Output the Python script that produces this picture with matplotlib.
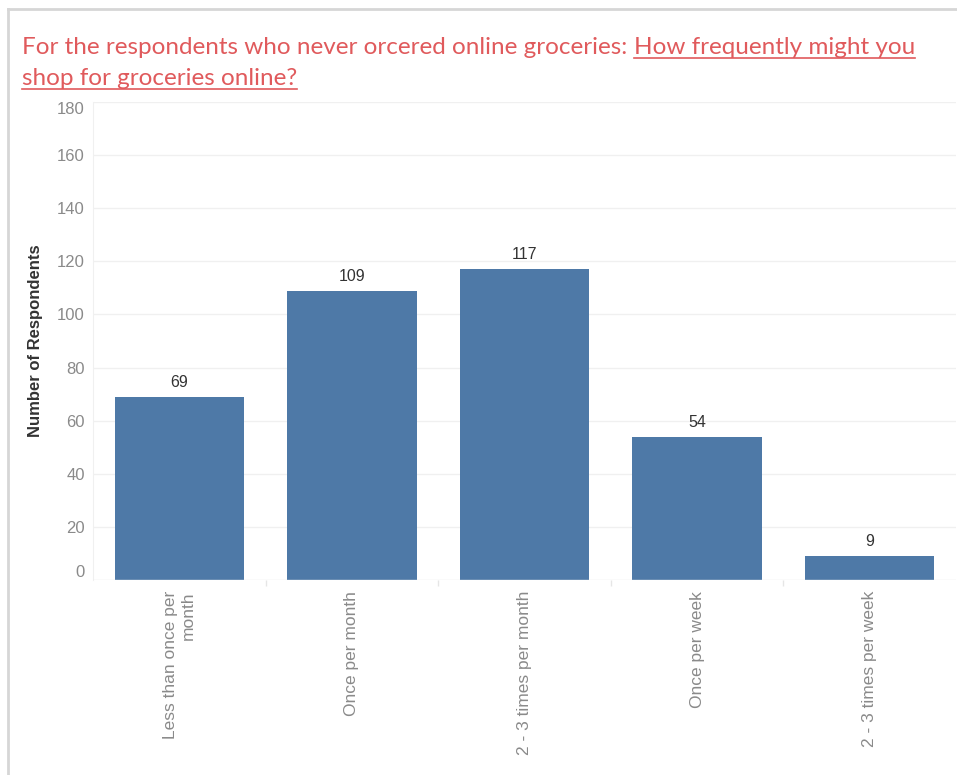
import matplotlib.pyplot as plt
from matplotlib.lines import Line2D

# survey answers, never-ordered group
categories = ['Less than once per\nmonth', 'Once per month', '2 - 3 times per month',
              'Once per week', '2 - 3 times per week']
respondents = [69, 109, 117, 54, 9]
yticks = [0, 20, 40, 60, 80, 100, 120, 140, 160, 180]

title_plain = 'For the respondents who never orcered online groceries: '
title_link_1 = 'How frequently might you'
title_link_2 = 'shop for groceries online?'

bar_color = '#4e79a7'
title_color = '#e05a5c'
tick_color = '#8a8a8a'
grid_color = '#f0f0f0'

W, H = 957, 775
fig = plt.figure(figsize=(W / 100, H / 100), dpi=100)
ax = fig.add_axes([93 / W, (H - 580) / H, (956 - 93) / W, (580 - 102) / H])

x = list(range(len(categories)))
ax.bar(x, respondents, width=0.75, color=bar_color, zorder=2)
ax.set_xlim(-0.5, len(categories) - 0.5)
ax.set_ylim(0, 180)

# value labels on top of the bars
for xi, v in zip(x, respondents):
    ax.annotate(str(v), (xi, v), xytext=(0, 5), textcoords='offset points',
                ha='center', va='bottom', fontsize=11.5, color='#333333',
                family='Liberation Sans')

# horizontal grid
for t in yticks[1:]:
    ax.axhline(t, color=grid_color, lw=1, zorder=0)
ax.axhline(0, color='#e6e6e6', lw=1, zorder=3)

for s in ['top', 'right', 'bottom']:
    ax.spines[s].set_visible(False)
ax.spines['left'].set_color('#f0f0f0')
ax.tick_params(length=0)

ax.set_yticks(yticks)
ax.set_yticklabels([str(t) for t in yticks], fontsize=12, color=tick_color,
                   family='Liberation Sans')
ylabels = ax.get_yticklabels()
ylabels[0].set_va('bottom')
ylabels[-1].set_va('top')
ax.tick_params(axis='y', pad=6)

ax.set_xticks(x)
ax.set_xticklabels(categories, rotation=90, fontsize=12.5, color=tick_color,
                   family='Liberation Sans', va='top', ha='center',
                   multialignment='right')
ax.tick_params(axis='x', pad=8)
# small separators between columns, below the axis
ax.set_xticks([xi + 0.5 for xi in x[:-1]], minor=True)
ax.tick_params(axis='x', which='minor', length=4, width=1, color='#e6e6e6')

ax.set_ylabel('Number of Respondents', fontsize=12, fontweight='bold',
              color='#333333', family='Liberation Sans', labelpad=10)

# title with underlined question
fig.canvas.draw()
renderer = fig.canvas.get_renderer()
ty1 = 1 - 54 / H
ty2 = 1 - 85 / H
fs = 17.5
t1 = fig.text(22 / W, ty1, title_plain, fontsize=fs, color=title_color,
              family='Lato', va='baseline')
ext = t1.get_window_extent(renderer)
t2 = fig.text(ext.x1 / W, ty1, title_link_1, fontsize=fs, color=title_color,
              family='Lato', va='baseline')
t3 = fig.text(22 / W, ty2, title_link_2, fontsize=fs, color=title_color,
              family='Lato', va='baseline')
for t, ty in [(t2, ty1), (t3, ty2)]:
    e = t.get_window_extent(renderer)
    uy = ty - 4 / H
    fig.add_artist(Line2D([e.x0 / W, e.x1 / W], [uy, uy], color=title_color, lw=1.2))

# outer frame
frame = '#d6d6d6'
fig.add_artist(Line2D([8 / W, 1], [1 - 9 / H, 1 - 9 / H], color=frame, lw=2))
fig.add_artist(Line2D([8 / W, 8 / W], [0, 1 - 9 / H], color=frame, lw=2))

fig.savefig('out.png', dpi=100)
